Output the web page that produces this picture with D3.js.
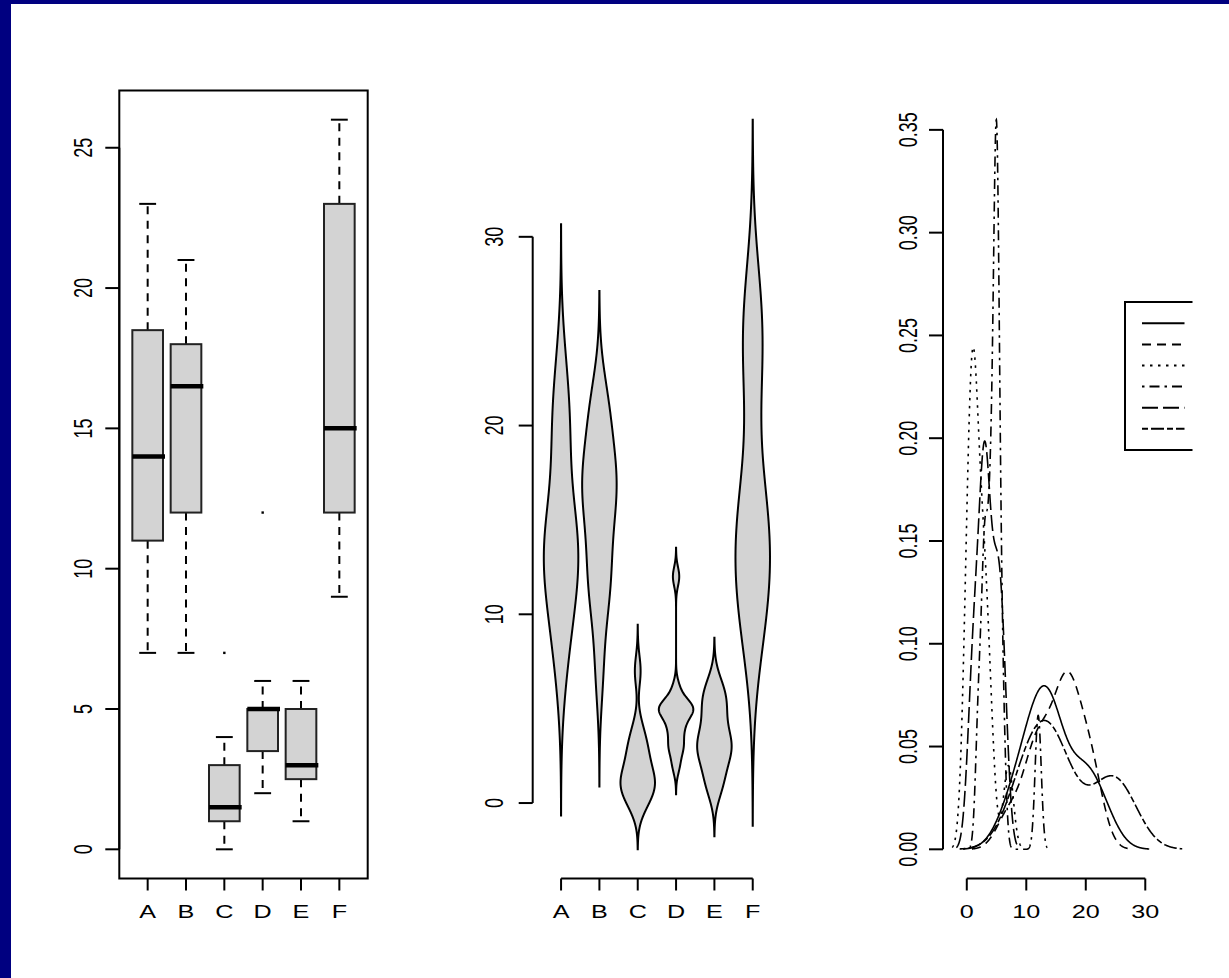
<!DOCTYPE html>
<html>
<head>
<meta charset="utf-8">
<script src="https://cdn.jsdelivr.net/npm/d3@7"></script>
<style>
  body { margin: 0; background: #fff; }
  svg { display: block; }
  text { font-family: "Liberation Sans", Arial, sans-serif; font-size: 18px; fill: #000; }
</style>
</head>
<body>
<div id="chart"></div>
<script>
// InsectSprays counts, one array per spray
const sprays = ['A', 'B', 'C', 'D', 'E', 'F'];
const countsA = [10, 7, 20, 14, 14, 12, 10, 23, 17, 20, 14, 13];
const countsB = [11, 17, 21, 11, 16, 14, 17, 17, 19, 21, 7, 13];
const countsC = [0, 1, 7, 2, 3, 1, 2, 1, 3, 0, 1, 4];
const countsD = [3, 5, 12, 6, 4, 3, 5, 5, 5, 5, 2, 4];
const countsE = [3, 5, 3, 5, 3, 6, 1, 1, 3, 2, 6, 4];
const countsF = [11, 9, 15, 22, 15, 16, 13, 10, 26, 26, 24, 13];
const groups = [countsA, countsB, countsC, countsD, countsE, countsF];

const boxTicks = [0, 5, 10, 15, 20, 25];
const violinTicks = [0, 10, 20, 30];
const densYTicks = [0, 0.05, 0.10, 0.15, 0.20, 0.25, 0.30, 0.35];
const densXTicks = [0, 10, 20, 30];
// R lty 1..6: solid, dashed, dotted, dotdash, longdash, twodash
const lineTypes = [null, '9,6', '2.5,5.5', '2.5,5,10,5', '16,5', '6,3,13,3'];

const W = 1229, H = 978;
const plotTop = 90.5, plotBottom = 878.5;
const navy = '#000080', gray = '#d3d3d3';

const svg = d3.select('#chart').append('svg')
  .attr('width', W).attr('height', H);

// slide background
svg.append('rect').attr('width', W).attr('height', H).attr('fill', navy);
svg.append('rect').attr('x', 11).attr('y', 4).attr('width', W - 11).attr('height', H - 4).attr('fill', '#fff');

// helpers
function pad(ext) {
  const d = (ext[1] - ext[0]) * 0.04;
  return [ext[0] - d, ext[1] + d];
}
function fivenum(x) {
  const s = x.slice().sort(d3.ascending), n = s.length;
  const n4 = Math.floor((n + 3) / 2) / 2;
  return [1, n4, (n + 1) / 2, n + 1 - n4, n]
    .map(v => 0.5 * (s[Math.floor(v) - 1] + s[Math.ceil(v) - 1]));
}
function boxStats(x) {
  const f = fivenum(x);
  const r = 1.5 * (f[3] - f[1]);
  const inside = x.filter(v => v >= f[1] - r && v <= f[3] + r);
  return {
    lo: d3.min(inside), q1: f[1], med: f[2], q3: f[3], hi: d3.max(inside),
    out: x.filter(v => v < f[1] - r || v > f[3] + r)
  };
}
function bwNrd0(x) {
  const s = x.slice().sort(d3.ascending);
  const iqr = d3.quantileSorted(s, 0.75) - d3.quantileSorted(s, 0.25);
  return 0.9 * Math.min(d3.deviation(x), iqr / 1.34) * Math.pow(x.length, -0.2);
}
function density(x) {
  const bw = bwNrd0(x);
  const lo = d3.min(x) - 3 * bw, hi = d3.max(x) + 3 * bw;
  const pts = [];
  for (let i = 0; i < 512; i++) {
    const g = lo + (hi - lo) * i / 511;
    const y = d3.sum(x, v => Math.exp(-0.5 * ((g - v) / bw) ** 2)) / (x.length * bw * Math.sqrt(2 * Math.PI));
    pts.push([g, y]);
  }
  return pts;
}
function hLabel(g, x, y, txt) {
  g.append('text')
    .attr('transform', `translate(${x},${y}) scale(1.4,1)`)
    .attr('text-anchor', 'middle').text(txt);
}
function vLabel(g, x, y, txt) {
  g.append('text')
    .attr('transform', `translate(${x},${y}) scale(1.4,1) rotate(-90)`)
    .attr('text-anchor', 'middle').attr('dy', '0.36em').text(txt);
}
function leftAxis(g, y, x0, ticks, labelX, fmt) {
  g.append('line').attr('x1', x0).attr('x2', x0)
    .attr('y1', y(ticks[0])).attr('y2', y(ticks[ticks.length - 1]))
    .attr('stroke', '#000').attr('stroke-width', 2);
  g.selectAll(null).data(ticks).join('line')
    .attr('x1', x0 - 14).attr('x2', x0)
    .attr('y1', d => y(d)).attr('y2', d => y(d))
    .attr('stroke', '#000').attr('stroke-width', 2);
  ticks.forEach(t => vLabel(g, labelX, y(t), fmt(t)));
}
function bottomAxis(g, x, y0, ticks, labels, line) {
  if (line) {
    g.append('line').attr('y1', y0).attr('y2', y0)
      .attr('x1', x(ticks[0])).attr('x2', x(ticks[ticks.length - 1]))
      .attr('stroke', '#000').attr('stroke-width', 2);
  }
  g.selectAll(null).data(ticks).join('line')
    .attr('y1', y0).attr('y2', y0 + 12)
    .attr('x1', d => x(d)).attr('x2', d => x(d))
    .attr('stroke', '#000').attr('stroke-width', 2);
  ticks.forEach((t, i) => hLabel(g, x(t), 918, labels[i]));
}

const idx = sprays.map((d, i) => i + 1);

// ---------- panel 1: boxplot ----------
{
  const g = svg.append('g');
  const x = d3.scaleLinear().domain(pad([0.5, 6.5])).range([119.3, 367.7]);
  const y = d3.scaleLinear().domain(pad([0, d3.max(groups.flat())])).range([plotBottom, plotTop]);
  const stats = groups.map(boxStats);
  const bw = x(1.4) - x(1), sw = x(1.22) - x(1);

  stats.forEach((s, i) => {
    const cx = x(i + 1);
    // whiskers
    [[s.q3, s.hi], [s.q1, s.lo]].forEach(([a, b]) => {
      g.append('line').attr('x1', cx).attr('x2', cx).attr('y1', y(a)).attr('y2', y(b))
        .attr('stroke', '#000').attr('stroke-width', 2).attr('stroke-dasharray', '8,6.5');
      g.append('line').attr('x1', cx - sw).attr('x2', cx + sw).attr('y1', y(b)).attr('y2', y(b))
        .attr('stroke', '#000').attr('stroke-width', 2);
    });
    g.append('rect').attr('x', cx - bw).attr('width', 2 * bw)
      .attr('y', y(s.q3)).attr('height', y(s.q1) - y(s.q3))
      .attr('fill', gray).attr('stroke', '#222').attr('stroke-width', 2);
    g.append('line').attr('x1', cx - bw).attr('x2', cx + bw + 2)
      .attr('y1', y(s.med)).attr('y2', y(s.med))
      .attr('stroke', '#000').attr('stroke-width', 4.5);
    s.out.forEach(o => {
      g.append('rect').attr('x', cx - 1.2).attr('y', y(o) - 1.2)
        .attr('width', 2.4).attr('height', 2.4).attr('fill', '#000');
    });
  });

  g.append('rect').attr('x', x.range()[0]).attr('y', plotTop)
    .attr('width', x.range()[1] - x.range()[0]).attr('height', plotBottom - plotTop)
    .attr('fill', 'none').attr('stroke', '#000').attr('stroke-width', 2);
  leftAxis(g, y, x.range()[0], boxTicks, 82.5, d => d);
  bottomAxis(g, x, plotBottom, idx, sprays, false);
}

// ---------- panel 2: violin plot ----------
{
  const g = svg.append('g');
  const dens = groups.map(density);
  const yExt = [d3.min(dens, d => d[0][0]), d3.max(dens, d => d[d.length - 1][0])];
  const x = d3.scaleLinear().domain(pad([0.5, 6.5])).range([532.7, 781.1]);
  const y = d3.scaleLinear().domain(pad(yExt)).range([plotBottom, plotTop]);

  dens.forEach((d, i) => {
    const m = d3.max(d, p => p[1]);
    const area = d3.area()
      .y(p => y(p[0]))
      .x0(p => x(i + 1 - 0.45 * p[1] / m))
      .x1(p => x(i + 1 + 0.45 * p[1] / m));
    g.append('path').attr('d', area(d))
      .attr('fill', gray).attr('stroke', '#000').attr('stroke-width', 2);
  });

  leftAxis(g, y, x.range()[0], violinTicks, 494, d => d);
  bottomAxis(g, x, plotBottom, idx, sprays, true);
}

// ---------- panel 3: densities ----------
{
  const g = svg.append('g');
  const dens = groups.map(density);
  const xExt = [d3.min(dens, d => d[0][0]), d3.max(dens, d => d[d.length - 1][0])];
  const yMax = d3.max(dens, d => d3.max(d, p => p[1]));
  const x = d3.scaleLinear().domain(pad(xExt)).range([943, 1191.4]);
  const y = d3.scaleLinear().domain(pad([0, yMax])).range([plotBottom, plotTop]);
  const line = d3.line().x(p => x(p[0])).y(p => y(p[1]));

  dens.forEach((d, i) => {
    g.append('path').attr('d', line(d))
      .attr('fill', 'none').attr('stroke', '#000').attr('stroke-width', 1.6)
      .attr('stroke-dasharray', lineTypes[i]);
  });

  leftAxis(g, y, x.range()[0], densYTicks, 907.5, d3.format('.2f'));
  bottomAxis(g, x, plotBottom, densXTicks, densXTicks.map(String), true);

  // legend, cut off at the right edge of the figure
  svg.append('clipPath').attr('id', 'legclip')
    .append('rect').attr('x', 0).attr('y', 0).attr('width', 1192.5).attr('height', H);
  const lg = svg.append('g').attr('clip-path', 'url(#legclip)');
  const lx = 1125, ly0 = 302, ly1 = 450;
  lg.append('path').attr('d', `M1240,${ly0}H${lx}V${ly1}H1240`)
    .attr('fill', 'none').attr('stroke', '#000').attr('stroke-width', 2);
  sprays.forEach((s, i) => {
    const yy = 323.3 + i * 21.1;
    lg.append('line').attr('x1', 1142).attr('x2', 1184.5).attr('y1', yy).attr('y2', yy)
      .attr('stroke', '#000').attr('stroke-width', 2)
      .attr('stroke-dasharray', lineTypes[i]);
  });
}
</script>
</body>
</html>
